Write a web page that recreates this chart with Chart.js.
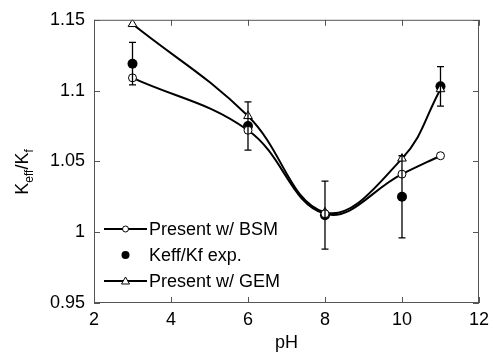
<!DOCTYPE html>
<html>
<head>
<meta charset="utf-8">
<script src="https://cdn.jsdelivr.net/npm/chart.js@4.4.0/dist/chart.umd.min.js"></script>
<style>
  html, body { margin: 0; padding: 0; background: #fff; }
  #wrap { width: 495px; height: 358px; }
</style>
</head>
<body>
<div id="wrap"><canvas id="c"></canvas></div>
<script>
// data
const phValues = [3, 6, 8, 10, 11];
const bsmValues = [1.109, 1.072, 1.013, 1.041, 1.054];
const expValues = [1.119, 1.075, 1.012, 1.025, 1.103];
const expErr = [0.015, 0.017, 0.024, 0.029, 0.014];
const gemValues = [1.147, 1.082, 1.014, 1.052, 1.101];
const xTicks = [2, 4, 6, 8, 10, 12];
const yTicks = [0.95, 1, 1.05, 1.1, 1.15];
const seriesNames = ['Present w/ BSM', 'Keff/Kf exp.', 'Present w/ GEM'];

const FONT = 'Liberation Sans, Arial, Helvetica, sans-serif';

function pts(vals) {
    return phValues.map((x, i) => ({x: x, y: vals[i]}));
}

// error bars, inward ticks, frame, y title, legend
const extras = {
    id: 'extras',
    afterDatasetsDraw(chart) {
        const ctx = chart.ctx, xs = chart.scales.x, ys = chart.scales.y;
        const a = chart.chartArea;
        ctx.save();
        ctx.strokeStyle = '#000';
        ctx.lineWidth = 1.3;
        for (let i = 0; i < phValues.length; i++) {
            const px = xs.getPixelForValue(phValues[i]);
            const t = ys.getPixelForValue(expValues[i] + expErr[i]);
            const b = ys.getPixelForValue(expValues[i] - expErr[i]);
            ctx.beginPath();
            ctx.moveTo(px, t); ctx.lineTo(px, b);
            ctx.moveTo(px - 3.5, t); ctx.lineTo(px + 3.5, t);
            ctx.moveTo(px - 3.5, b); ctx.lineTo(px + 3.5, b);
            ctx.stroke();
        }
        // frame
        ctx.strokeStyle = '#555';
        ctx.lineWidth = 1;
        ctx.strokeRect(a.left + 0.5, a.top + 0.5, a.right - a.left - 1, a.bottom - a.top - 1);
        // inward ticks
        ctx.beginPath();
        xTicks.forEach(v => {
            const px = Math.round(xs.getPixelForValue(v)) + 0.5;
            ctx.moveTo(px, a.bottom); ctx.lineTo(px, a.bottom - 6);
            ctx.moveTo(px, a.top); ctx.lineTo(px, a.top + 6);
        });
        yTicks.forEach(v => {
            const py = Math.round(ys.getPixelForValue(v)) + 0.5;
            ctx.moveTo(a.left, py); ctx.lineTo(a.left + 6, py);
            ctx.moveTo(a.right, py); ctx.lineTo(a.right - 6, py);
        });
        ctx.stroke();
        ctx.restore();
    },
    afterDraw(chart) {
        const ctx = chart.ctx;
        ctx.save();
        // y axis title K_eff/K_f
        ctx.translate(28, 172);
        ctx.rotate(-Math.PI / 2);
        ctx.fillStyle = '#000';
        ctx.textBaseline = 'alphabetic';
        const parts = [['K', 18, 0], ['eff', 12, 5], ['/K', 18, 0], ['f', 12, 5]];
        let w = 0;
        parts.forEach(p => { ctx.font = p[1] + 'px ' + FONT; w += ctx.measureText(p[0]).width; });
        let x = -w / 2;
        parts.forEach(p => {
            ctx.font = p[1] + 'px ' + FONT;
            ctx.fillText(p[0], x, p[2]);
            x += ctx.measureText(p[0]).width;
        });
        ctx.restore();

        // legend inside plot
        ctx.save();
        ctx.font = '18px ' + FONT;
        ctx.textBaseline = 'middle';
        ctx.fillStyle = '#000';
        const rows = [229, 255, 281];
        rows.forEach((y, i) => {
            if (i !== 1) {
                ctx.strokeStyle = '#000';
                ctx.lineWidth = 2;
                ctx.beginPath();
                ctx.moveTo(104, y); ctx.lineTo(147, y);
                ctx.stroke();
                ctx.lineWidth = 1;
                ctx.fillStyle = '#fff';
                ctx.beginPath();
                if (i === 0) {
                    ctx.arc(125.5, y, 3, 0, Math.PI * 2);
                } else {
                    ctx.moveTo(125.5, y - 4); ctx.lineTo(129.5, y + 3); ctx.lineTo(121.5, y + 3); ctx.closePath();
                }
                ctx.fill(); ctx.stroke();
            } else {
                ctx.fillStyle = '#000';
                ctx.beginPath();
                ctx.arc(125.5, y, 4, 0, Math.PI * 2);
                ctx.fill();
            }
            ctx.fillStyle = '#000';
            ctx.fillText(seriesNames[i], 149, y + 1);
        });
        ctx.restore();
    }
};

const config = {
    type: 'scatter',
    data: {
        datasets: [{
            label: seriesNames[0],
            data: pts(bsmValues),
            showLine: true,
            tension: 0.4,
            borderColor: '#000',
            borderWidth: 2,
            pointStyle: 'circle',
            pointRadius: 4,
            pointBackgroundColor: '#fff',
            pointBorderColor: '#000',
            pointBorderWidth: 1
        }, {
            label: seriesNames[2],
            data: pts(gemValues),
            showLine: true,
            tension: 0.4,
            borderColor: '#000',
            borderWidth: 2,
            pointStyle: 'triangle',
            pointRadius: 5,
            pointBackgroundColor: '#fff',
            pointBorderColor: '#000',
            pointBorderWidth: 1
        }, {
            label: seriesNames[1],
            data: pts(expValues),
            showLine: false,
            pointStyle: 'circle',
            pointRadius: 5,
            pointBackgroundColor: '#000',
            pointBorderColor: '#000',
            pointBorderWidth: 0
        }]
    },
    options: {
        responsive: true,
        maintainAspectRatio: false,
        animation: false,
        layout: { padding: { top: 14, right: 13, left: 0, bottom: 0 } },
        plugins: { legend: { display: false }, tooltip: { enabled: false } },
        scales: {
            x: {
                type: 'linear',
                min: 2, max: 12,
                afterBuildTicks: s => { s.ticks = xTicks.map(v => ({value: v})); },
                afterFit: s => { s.height = 55; },
                grid: { display: false, drawTicks: false },
                border: { display: false },
                ticks: { color: '#000', font: { family: FONT, size: 18 }, padding: 6 },
                title: { display: true, text: 'pH', color: '#000', font: { family: FONT, size: 18 }, padding: { top: 0 } }
            },
            y: {
                type: 'linear',
                min: 0.95, max: 1.15,
                afterBuildTicks: s => { s.ticks = yTicks.map(v => ({value: v})); },
                afterFit: s => { s.width = 94; },
                grid: { display: false, drawTicks: false },
                border: { display: false },
                ticks: {
                    color: '#000', font: { family: FONT, size: 18 }, padding: 9,
                    callback: v => String(+v.toFixed(2))
                }
            }
        }
    },
    plugins: [extras]
};

new Chart(document.getElementById('c'), config);
</script>
</body>
</html>
